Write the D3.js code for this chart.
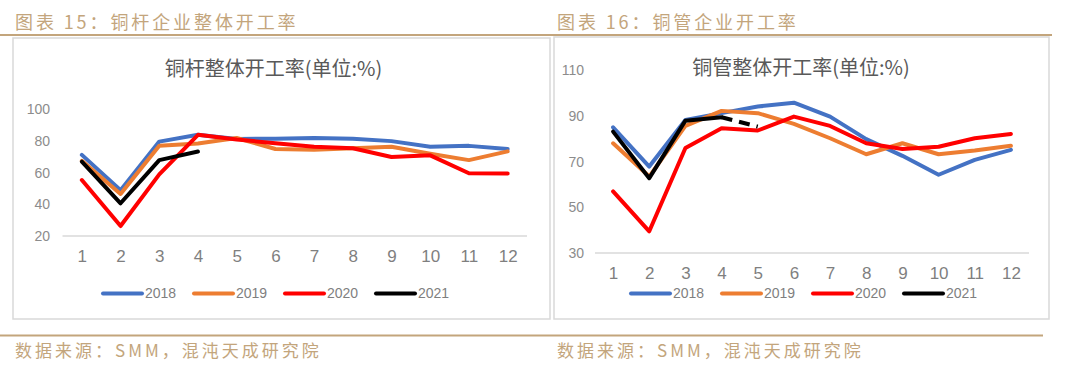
<!DOCTYPE html>
<html><head><meta charset="utf-8">
<script src="https://cdn.jsdelivr.net/npm/d3@7"></script>
<style>
html,body{margin:0;padding:0;background:#fff;}
svg{display:block;}
</style></head>
<body>
<svg id="c" width="1080" height="365"></svg>
<script>
// ---- data ----
const months = ["1","2","3","4","5","6","7","8","9","10","11","12"];
const seriesNames = ["2018","2019","2020","2021"];
const seriesColors = ["#4472C4","#ED7D31","#FF0000","#000000"];

const rodTicks = [20,40,60,80,100];
const rod2018 = [71.3,49,79.7,84,81.4,81.5,82,81.5,80,76.5,77,75];
const rod2019 = [67.5,46.6,77,78.5,82,75,74.5,75.5,76.5,72,68,73.5];
const rod2020 = [55.4,26.3,59,84,81,78.7,76.5,75.5,70,71,59.7,59.5];
const rod2021 = [67,40.7,68,73.4];

const tubeTicks = [30,50,70,90,110];
const tube2018 = [85.1,67.9,88.3,91.3,94.2,95.9,89.8,79.9,72.6,64.3,70.8,75.2];
const tube2019 = [78.1,63.5,85.7,92.3,91.3,86.6,80.3,73.3,78.1,73.3,74.9,77];
const tube2020 = [57,39.5,76,84.7,83.7,89.8,85.7,78.1,75.6,76.6,80.3,82.2];
const tube2021 = [83.2,62.8,88,89.5,85.4];
const tube2021SolidCount = 4; // last point is drawn dashed

const header1 = "图表 15：铜杆企业整体开工率";
const header2 = "图表 16：铜管企业开工率";
const title1 = "铜杆整体开工率(单位:%)";
const title2 = "铜管整体开工率(单位:%)";
const source = "数据来源：SMM，混沌天成研究院";

// ---- drawing ----
const svg = d3.select("#c");
const gold = "#c3a57c";
const cjk = "'Noto Sans CJK SC','Noto Sans',sans-serif";
const num = "'Liberation Sans',Arial,sans-serif";

// header / footer lines
svg.append("line").attr("x1",0).attr("x2",1052).attr("y1",35).attr("y2",35)
  .attr("stroke",gold).attr("stroke-width",2);
svg.append("line").attr("x1",0).attr("x2",1043).attr("y1",335.5).attr("y2",335.5)
  .attr("stroke",gold).attr("stroke-width",2);

function goldText(x,y,t,size,ls){
  svg.append("text").attr("x",x).attr("y",y).text(t)
    .attr("font-family",cjk).attr("font-size",size).attr("fill",gold)
    .attr("letter-spacing",ls);
}
goldText(15,29,header1,18,2.9);
goldText(557,29,header2,18,2.9);
goldText(15,357,source,17,3.0);
goldText(557,357,source,17,3.0);

function chart(cfg){
  const g = svg.append("g");
  g.append("rect").attr("x",cfg.box[0]).attr("y",cfg.box[1])
    .attr("width",cfg.box[2]).attr("height",cfg.box[3])
    .attr("fill","#fff").attr("stroke","#d9d9d9").attr("stroke-width",1.5);

  const x = d3.scalePoint().domain(months).range(cfg.xr).padding(0.5);
  const y = d3.scaleLinear().domain(cfg.yd).range(cfg.yr);

  g.append("text").attr("x",cfg.titleX).attr("y",cfg.titleY).attr("text-anchor","middle")
    .attr("font-family",cjk).attr("font-size",20).attr("fill","#595959").text(cfg.title);

  // baseline
  g.append("line").attr("x1",cfg.xr[0]).attr("x2",cfg.xr[1])
    .attr("y1",y(cfg.yd[0])).attr("y2",y(cfg.yd[0]))
    .attr("stroke","#d9d9d9").attr("stroke-width",1.5);

  // y axis labels
  const ya = g.append("g").attr("transform",`translate(${cfg.yLabelX},0)`)
    .call(d3.axisLeft(y).tickValues(cfg.ticks).tickSize(0).tickPadding(0));
  ya.select(".domain").remove();
  ya.selectAll("text").attr("font-family",num).attr("font-size",14).attr("fill","#8c8c8c");

  // x axis labels
  const xa = g.append("g").attr("transform",`translate(0,${cfg.xLabelY})`)
    .call(d3.axisBottom(x).tickSize(0).tickPadding(0));
  xa.select(".domain").remove();
  xa.selectAll("text").attr("font-family",num).attr("font-size",17).attr("fill","#7f7f7f")
    .attr("dy","0.35em");

  const line = d3.line().x((d,i)=>x(months[i])).y(d=>y(d));
  const lineOff = (off)=>d3.line().x((d,i)=>x(months[i+off])).y(d=>y(d));

  cfg.series.forEach((s,k)=>{
    const solid = s.slice(0, k===3 && cfg.solidCount ? cfg.solidCount : s.length);
    g.append("path").attr("d",line(solid)).attr("fill","none")
      .attr("stroke",seriesColors[k]).attr("stroke-width",4)
      .attr("stroke-linejoin","round").attr("stroke-linecap","round");
    if(k===3 && cfg.solidCount && cfg.solidCount < s.length){
      const off = cfg.solidCount-1;
      g.append("path").attr("d",lineOff(off)(s.slice(off))).attr("fill","none")
        .attr("stroke",seriesColors[k]).attr("stroke-width",4)
        .attr("stroke-dasharray","11,7").attr("stroke-linecap","butt");
    }
  });

  // legend
  const lg = g.append("g");
  seriesNames.forEach((n,k)=>{
    const lx = cfg.legendX + k*91;
    lg.append("line").attr("x1",lx+2).attr("x2",lx+41).attr("y1",cfg.legendY).attr("y2",cfg.legendY)
      .attr("stroke",seriesColors[k]).attr("stroke-width",4).attr("stroke-linecap","round");
    lg.append("text").attr("x",lx+44).attr("y",cfg.legendY).attr("dy","0.35em")
      .attr("font-family",num).attr("font-size",14).attr("fill","#7f7f7f").text(n);
  });
}

chart({
  box:[13,38,537,281], xr:[62.5,527], yd:[20,100], yr:[236,109.5], ticks:rodTicks,
  yLabelX:50, xLabelY:256, title:title1, titleX:273.5, titleY:76,
  series:[rod2018,rod2019,rod2020,rod2021], legendX:101, legendY:293.5
});
chart({
  box:[554,37,495,282], xr:[595,1029], yd:[30,110], yr:[253,70.5], ticks:tubeTicks,
  yLabelX:584, xLabelY:273, title:title2, titleX:801, titleY:75,
  series:[tube2018,tube2019,tube2020,tube2021], solidCount:tube2021SolidCount,
  legendX:629, legendY:293.5
});
</script>
</body></html>
